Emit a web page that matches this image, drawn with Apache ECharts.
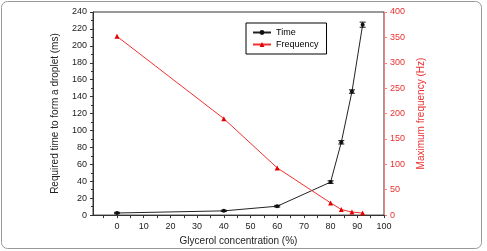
<!DOCTYPE html>
<html><head><meta charset="utf-8">
<script src="https://cdn.jsdelivr.net/npm/echarts@6/dist/echarts.min.js"></script>
<style>html,body{margin:0;padding:0;background:#fff}#c{width:487px;height:251px}</style>
</head><body><div id="c"></div>
<script>
const glycerol = [0, 40, 60, 80, 84, 88, 92];
const timeMs = [2.5, 5, 10.5, 39, 86, 146, 225];
const timeErr = [0.8, 0.8, 1, 1.5, 2, 2, 3];
const freqHz = [352, 190, 93, 24, 11, 6, 4];
const xTicks = [0, 10, 20, 30, 40, 50, 60, 70, 80, 90, 100];
const xMinorTicks = [-5, 0, 5, 10, 15, 20, 25, 30, 35, 40, 45, 50, 55, 60, 65, 70, 75, 80, 85, 90, 95, 100];

const chart = echarts.init(document.getElementById('c'));
const font = 'Liberation Sans, Arial, sans-serif';
chart.setOption({
  animation: false,
  graphic: [{type:'rect', shape:{x:1.5,y:1.5,width:480,height:247,r:6}, style:{fill:'none',stroke:'#999',lineWidth:1}, z:-1}],
  grid: {left: 93, right: 103, top: 12, bottom: 31, show: true, borderColor: '#333', borderWidth: 1},
  legend: {
    orient: 'vertical', left: 246, top: 23, borderColor: '#000', borderWidth: 1,
    padding: [5, 8, 5, 6], itemGap: 3, itemWidth: 18, itemHeight: 6,
    textStyle: {fontFamily: font, fontSize: 9, color: '#000'},
    data: ['Time', 'Frequency']
  },
  xAxis: {
    type: 'value', min: -9, max: 100,
    axisLine: {onZero: false, lineStyle: {color: '#333'}},
    axisTick: {show: true, length: 3, customValues: xMinorTicks, lineStyle: {color: '#333'}},
    axisLabel: {customValues: xTicks, fontFamily: font, fontSize: 9, color: '#222', margin: 7},
    splitLine: {show: false},
    name: 'Glycerol concentration (%)', nameLocation: 'middle', nameGap: 20,
    nameTextStyle: {fontFamily: font, fontSize: 10, color: '#222'}
  },
  yAxis: [{
    type: 'value', min: 0, max: 240, interval: 20,
    axisLine: {show: true, onZero: false, lineStyle: {color: '#333'}},
    axisTick: {show: true, length: 3, lineStyle: {color: '#333'}},
    minorTick: {show: true, splitNumber: 2, length: 2, lineStyle: {color: '#333'}},
    axisLabel: {fontFamily: font, fontSize: 9, color: '#222', margin: 6},
    splitLine: {show: false},
    name: 'Required time to form a droplet (ms)', nameLocation: 'middle', nameGap: 33,
    nameTextStyle: {fontFamily: font, fontSize: 10, color: '#222'}
  }, {
    type: 'value', min: 0, max: 400, interval: 50, position: 'right',
    axisLine: {show: true, onZero: false, lineStyle: {color: '#f08080'}},
    axisTick: {show: true, length: 3, lineStyle: {color: '#f08080'}},
    axisLabel: {fontFamily: font, fontSize: 9, color: '#e83030', margin: 6},
    splitLine: {show: false},
    name: 'Maximum frequency (Hz)', nameLocation: 'middle', nameGap: 30, nameRotate: 90,
    nameTextStyle: {fontFamily: font, fontSize: 10, color: '#e83030'}
  }],
  series: [{
    name: 'Time', type: 'line', yAxisIndex: 0,
    data: glycerol.map((x, i) => [x, timeMs[i]]),
    symbol: 'circle', symbolSize: 4,
    lineStyle: {color: '#222', width: 1}, itemStyle: {color: '#111'}, z: 3
  }, {
    name: 'TimeErr', type: 'custom', yAxisIndex: 0,
    data: glycerol.map((x, i) => [x, timeMs[i] - timeErr[i], timeMs[i] + timeErr[i]]),
    renderItem: function (params, api) {
      const lo = api.coord([api.value(0), api.value(1)]);
      const hi = api.coord([api.value(0), api.value(2)]);
      const w = 3;
      const st = {stroke: '#111', lineWidth: 1};
      return {type: 'group', children: [
        {type: 'line', shape: {x1: lo[0], y1: lo[1], x2: hi[0], y2: hi[1]}, style: st},
        {type: 'line', shape: {x1: lo[0]-w, y1: lo[1], x2: lo[0]+w, y2: lo[1]}, style: st},
        {type: 'line', shape: {x1: hi[0]-w, y1: hi[1], x2: hi[0]+w, y2: hi[1]}, style: st}
      ]};
    }, z: 4
  }, {
    name: 'Frequency', type: 'line', yAxisIndex: 1,
    data: glycerol.map((x, i) => [x, freqHz[i]]),
    symbol: 'triangle', symbolSize: 5,
    lineStyle: {color: '#f03030', width: 1}, itemStyle: {color: '#e00000'}, z: 3
  }]
});
</script></body></html>
